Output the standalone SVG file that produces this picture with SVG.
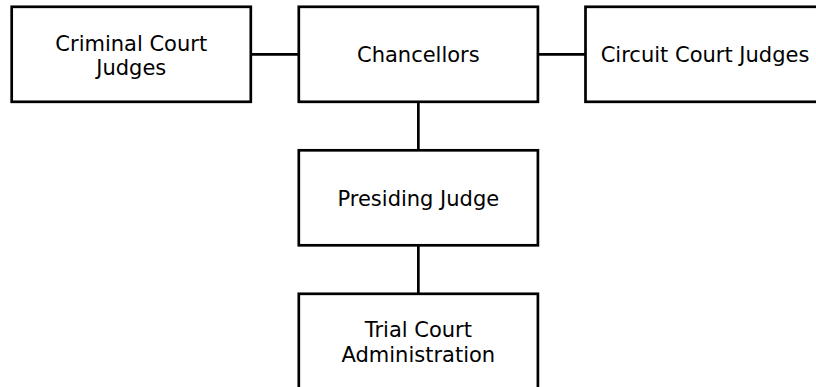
<svg xmlns="http://www.w3.org/2000/svg" width="816" height="387" viewBox="0 0 816 387">
<style>
.box{fill:#fff;stroke:#000;stroke-width:2.7}
.lbl{font-family:"DejaVu Sans",Verdana,sans-serif;font-size:21px;fill:#000;text-anchor:middle}
.conn{stroke:#000;stroke-width:2.7;fill:none}
</style>
<rect width="816" height="387" fill="#fff"/>
<g id="connectors">
<line class="conn" x1="250.8" y1="54.3" x2="298.8" y2="54.3"/>
<line class="conn" x1="537.9" y1="54.3" x2="585.5" y2="54.3"/>
<line class="conn" x1="418.35" y1="101.8" x2="418.35" y2="150.3"/>
<line class="conn" x1="418.35" y1="245.3" x2="418.35" y2="293.8"/>
</g>
<g id="criminal">
<rect class="box" x="11.7" y="6.8" width="239.1" height="95"/>
<text class="lbl" x="131.25" y="50.5">Criminal Court</text>
<text class="lbl" x="131.25" y="74.5">Judges</text>
</g>
<g id="chancellors">
<rect class="box" x="298.8" y="6.8" width="239.1" height="95"/>
<text class="lbl" x="418.35" y="61.8">Chancellors</text>
</g>
<g id="circuit">
<rect class="box" x="585.5" y="6.8" width="239.1" height="95"/>
<text class="lbl" x="705.05" y="61.8">Circuit Court Judges</text>
</g>
<g id="presiding">
<rect class="box" x="298.8" y="150.3" width="239.1" height="95"/>
<text class="lbl" x="418.35" y="205.5">Presiding Judge</text>
</g>
<g id="trial">
<rect class="box" x="298.8" y="293.8" width="239.1" height="95"/>
<text class="lbl" x="418.35" y="337">Trial Court</text>
<text class="lbl" x="418.35" y="361.5">Administration</text>
</g>
</svg>
